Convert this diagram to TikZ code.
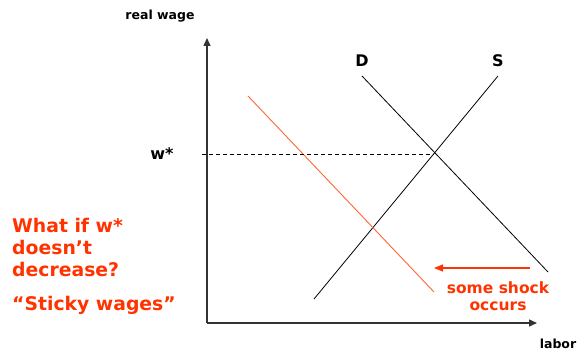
\documentclass[tikz,border=0pt]{standalone}
\usepackage{fontspec}
\setmainfont{DejaVu Sans}
\usetikzlibrary{arrows.meta,positioning}
\definecolor{shock}{HTML}{FF3300}
\definecolor{shifted}{HTML}{FF6633}
\definecolor{axisgray}{HTML}{333333}
\tikzset{
  axis/.style={-{Triangle[length=8pt,width=7pt]},draw=axisgray,line width=1.4pt},
  curve/.style={draw=black,line width=0.8pt},
  shiftcurve/.style={draw=shifted,line width=0.9pt},
  guide/.style={draw=black,line width=0.7pt,dash pattern=on 4pt off 3pt},
  shockarrow/.style={-{Triangle[length=9pt,width=7pt]},draw=shock,line width=1.2pt},
  axislabel/.style={font=\bfseries\fontsize{12.5}{14}\selectfont,inner sep=0pt},
  curvelabel/.style={font=\bfseries\fontsize{16}{18}\selectfont,inner sep=0pt},
  note/.style={font=\bfseries\fontsize{18.8}{22}\selectfont,text=shock,align=left,inner sep=0pt},
  shocknote/.style={font=\bfseries\fontsize{15.5}{17.5}\selectfont,text=shock,align=center,inner sep=0pt}
}
\begin{document}
\begin{tikzpicture}[x=1pt,y=-1pt]
  \useasboundingbox (0,0) rectangle (578,353);
  % axes
  \coordinate (o) at (207,323);
  \coordinate (ytop) at (207,38);
  \coordinate (xend) at (537,323);
  \draw[axis] (o) -- (ytop);
  \draw[axis] (o) -- (xend);
  \node[axislabel] (wagelbl) at (160,16) {real wage};
  \node[axislabel] (laborlbl) at (558,344) {labor};
  % curves
  \coordinate (dtop) at (362,76);
  \coordinate (dbot) at (548,272);
  \coordinate (stop) at (498,76);
  \coordinate (sbot) at (314,299);
  \coordinate (ntop) at (248,96);
  \coordinate (nbot) at (434,292);
  \draw[curve] (dtop) -- (dbot);
  \draw[curve] (sbot) -- (stop);
  \draw[shiftcurve] (ntop) -- (nbot);
  \node[curvelabel,above=9pt of dtop] (dlbl) {D};
  \node[curvelabel,above=9pt of stop] (slbl) {S};
  % equilibrium wage
  \coordinate (eq) at (434,154);
  \coordinate (wtick) at (202,154);
  \node[curvelabel] (wlbl) at (162,154) {w*};
  \draw[guide] (wtick) -- (eq);
  % shock
  \coordinate (shockstart) at (530,268);
  \coordinate (shockend) at (434,268);
  \draw[shockarrow] (shockstart) -- (shockend);
  \node[shocknote] (shocklbl) at (498,296) {some shock\\occurs};
  % notes
  \node[note,anchor=north west] (question) at (12,218) {What if w*\\doesn’t\\decrease?};
  \node[note,anchor=west] (sticky) at (12,305) {“Sticky wages”};
\end{tikzpicture}
\end{document}
